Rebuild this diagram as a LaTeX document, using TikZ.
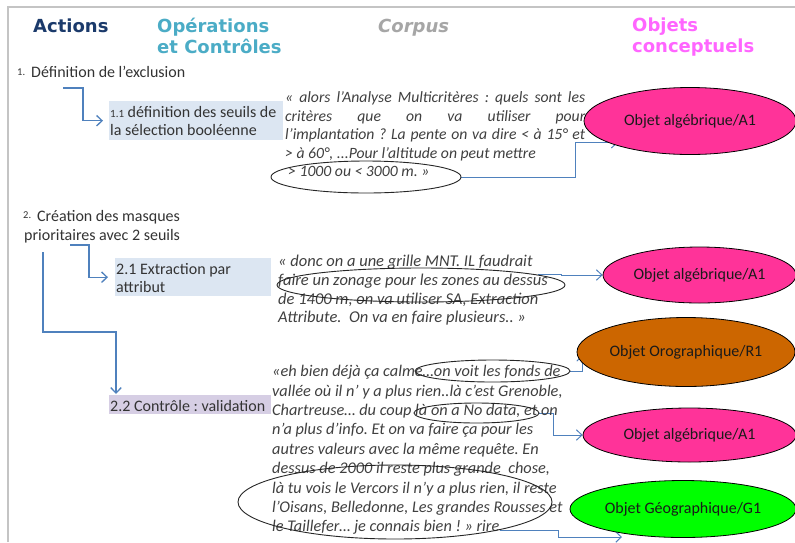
\documentclass[tikz,border=0pt]{standalone}
\usepackage{fontspec}
\setmainfont{Carlito}
\newfontfamily\hdrfont{DejaVu Sans}
\usetikzlibrary{shapes.geometric,arrows.meta,calc}
\pgfdeclarelayer{background}
\pgfsetlayers{background,main}
\definecolor{framegray}{HTML}{C4C4C4}
\definecolor{navy}{HTML}{1B3A6B}
\definecolor{tealh}{HTML}{4BACC6}
\definecolor{corpush}{HTML}{A6A6A6}
\definecolor{objh}{HTML}{FF66FF}
\definecolor{connblue}{HTML}{4F81BD}
\definecolor{boxblue}{HTML}{DCE6F2}
\definecolor{boxlav}{HTML}{D6CEE4}
\definecolor{pinkobj}{HTML}{FF3399}
\definecolor{brownobj}{HTML}{CC6600}
\definecolor{greenobj}{HTML}{00FF00}
\definecolor{bodygray}{HTML}{333333}
\definecolor{corpusgray}{HTML}{404040}
\definecolor{objtext}{HTML}{1A1A1A}
\begin{document}
\frenchspacing
\begin{tikzpicture}[x=1pt,y=-1pt,
  hdr/.style={inner sep=0pt, anchor=base west, align=left, font=\hdrfont\bfseries\fontsize{18}{21}\selectfont},
  body/.style={inner sep=0pt, anchor=base west, text=bodygray, font=\fontsize{16}{18.3}\selectfont},
  corpus/.style={inner sep=0pt, anchor=base west, text=corpusgray, font=\itshape\fontsize{15.7}{18.5}\selectfont},
  fillbox/.style={rectangle, inner sep=0pt, anchor=north west},
  obj/.style={ellipse, draw=black, line width=0.8pt, inner sep=0pt, text=objtext, font=\fontsize{16}{18}\selectfont},
  cell/.style={ellipse, draw=black!85, line width=0.9pt, inner sep=0pt},
  conn/.style={draw=connblue, line width=1.3pt, -{Straight Barb[length=5.5pt,width=10.5pt]}},
  smallnum/.style={inner sep=0pt, anchor=base west, text=bodygray, font=\fontsize{10.5}{12}\selectfont}
]
\useasboundingbox (0,0) rectangle (795,542);
\clip (0,0) rectangle (795,542);
\begin{pgfonlayer}{background}
\fill[white] (0,0) rectangle (795,542);
\end{pgfonlayer}

% frame
\draw[framegray, line width=1.3pt] (8,542) -- (8,7) -- (795,7);

% headers
\node[hdr, text=navy] (hA) at (33,32.3) {Actions};
\node[hdr, text=tealh] (hO) at (157,53.3) {Opérations\\et Contrôles};
\node[hdr, text=corpush, font=\hdrfont\bfseries\itshape\fontsize{18}{21}\selectfont] (hC) at (378,32.3) {Corpus};
\node[hdr, text=objh] (hB) at (632,52.7) {Objets\\conceptuels};

% action 1
\node[smallnum] (n1) at (17,75) {1.};
\node[body] (t1) at (31,77) {Définition de l’exclusion};
\node[fillbox, fill=boxblue, minimum width=174pt, minimum height=39pt] (b11) at (109,101) {};
\node[body] (t11) at (110,117.3) {\parbox[t]{180pt}{{\fontsize{11}{12}\selectfont 1.1} définition des seuils de\\la sélection booléenne}};

% action 2
\node[smallnum] (n2) at (23,218) {2.};
\node[body] (t2) at (37,221.7) {\parbox[t]{180pt}{Création des masques\\\hspace*{-13pt}prioritaires avec 2 seuils}};
\node[fillbox, fill=boxblue, minimum width=156pt, minimum height=38pt] (b21) at (115,258) {};
\node[body] (t21) at (116,274) {\parbox[t]{150pt}{2.1 Extraction par\\attribut}};
\node[fillbox, fill=boxlav, minimum width=162pt, minimum height=19pt] (b22) at (109,395) {};
\node[body] (t22) at (110,411) {2.2 Contrôle : validation};

% corpus 1
\node[corpus] (c1) at (285,102.5) {\parbox[t]{300pt}{%
\makebox[300pt][s]{« alors l’Analyse Multicritères : quels sont les}\\
\makebox[300pt][s]{critères que on va utiliser pour}\\
\makebox[300pt][s]{l’implantation ? La pente on va dire < à 15° et}\\
> à 60°, ...Pour l’altitude on peut mettre\\
\hspace*{3pt}> 1000 ou < 3000 m. »}};

% corpus 2
\node[corpus, font=\itshape\fontsize{16.5}{18.7}\selectfont] (c2) at (278,266.7) {\parbox[t]{300pt}{%
« donc on a une grille MNT. IL faudrait\\
faire un zonage pour les zones au dessus\\
de 1400 m, on va utiliser SA, Extraction\\
Attribute.\ \ On va en faire plusieurs.. »}};

% corpus 3
\node[corpus, font=\itshape\fontsize{16.3}{19.4}\selectfont] (c3) at (272,376.7) {\parbox[t]{320pt}{%
«eh bien déjà ça calme…on voit les fonds de\\
vallée où il n’ y a plus rien..là c’est Grenoble,\\
Chartreuse… du coup là on a No data, et on\\
n’a plus d’info. Et on va faire ça pour les\\
autres valeurs avec la même requête. En\\
dessus de 2000 il reste plus grande\ \ chose,\\
là tu vois le Vercors il n’y a plus rien, il reste\\
l’Oisans, Belledonne, Les grandes Rousses et\\
le Taillefer… je connais bien ! » rire}};

% corpus ellipses
\node[cell, minimum width=190pt, minimum height=32pt] (ell1) at (366,177) {};
\node[cell, minimum width=288pt, minimum height=34pt] (ell2) at (421,285) {};
\node[cell, minimum width=155pt, minimum height=22pt] (ell3a) at (492.5,371) {};
\node[cell, minimum width=125pt, minimum height=20pt] (ell3b) at (476.5,413) {};
\node[cell, minimum width=314pt, minimum height=74pt] (ell3c) at (395,502) {};

% objects
\node[obj, fill=pinkobj, minimum width=212pt, minimum height=67pt] (obj1) at (690,121) {Objet algébrique/A1};
\node[obj, fill=pinkobj, minimum width=193pt, minimum height=56pt] (obj2) at (699.5,275) {Objet algébrique/A1};
\node[obj, fill=brownobj, minimum width=218pt, minimum height=69pt] (obj3) at (686,352) {Objet Orographique/R1};
\node[obj, fill=pinkobj, minimum width=213pt, minimum height=54pt] (obj4) at (689.5,435) {Objet algébrique/A1};
\node[obj, fill=greenobj, minimum width=226pt, minimum height=57pt] (obj5) at (683,509) {Objet Géographique/G1};

\coordinate (a1s) at (63,88);
\coordinate (a2s) at (70,245);
\coordinate (a3s) at (43,252);
\coordinate (g1in) at (622,537);

\draw[conn, shorten >=6pt] (a1s) -- ++(20,0) |- (b11.west);
\draw[conn, shorten >=7pt] (a2s) -- ++(19,0) |- (b21.west);
\draw[conn, shorten >=1pt] (a3s) -- ++(0,80) -| ($(b22.north west)+(7,0)$);

\begin{pgfonlayer}{background}
\draw[conn, line width=1pt, shorten >=-9pt] (ell1.east) -- ++(114,0) |- (obj1.195);
\draw[conn, line width=1pt] (ell2.5) -- ++(24,0) |- (obj2.west);
\draw[conn, line width=1pt, shorten >=-8pt] (ell3a.east) -| (obj3.186);
\draw[conn, line width=1pt] (ell3b.east) -- ++(14,0) |- (obj4.west);
\draw[conn, line width=1pt] (ell3c.-15) -- ++(59,0) |- (g1in);
\end{pgfonlayer}
\end{tikzpicture}
\end{document}
